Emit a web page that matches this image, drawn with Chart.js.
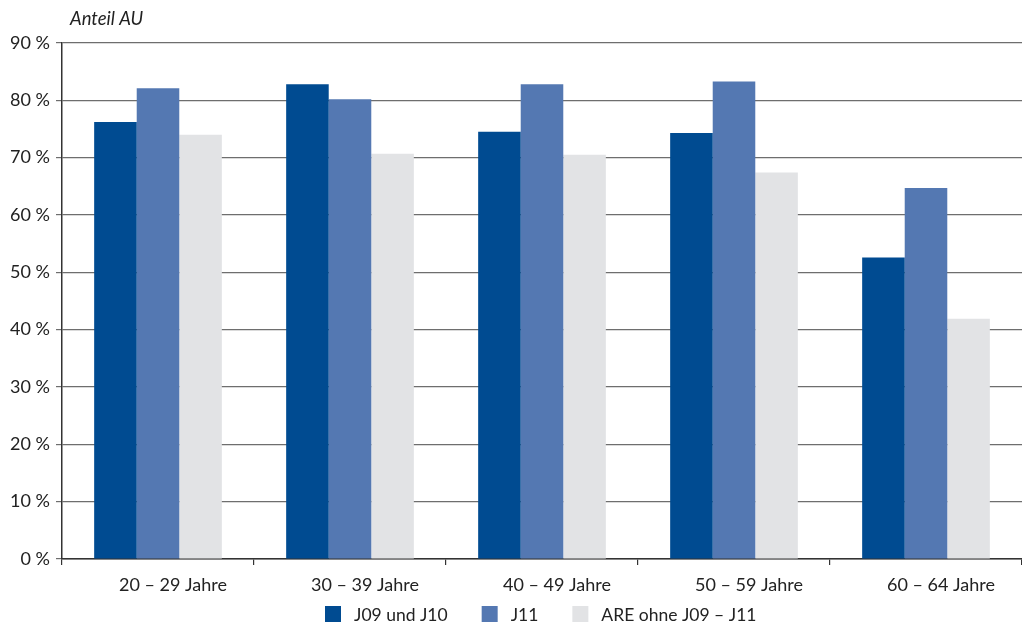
<!DOCTYPE html>
<html>
<head>
<meta charset="utf-8">
<script src="https://cdn.jsdelivr.net/npm/chart.js@4/dist/chart.umd.min.js"></script>
<style>
  html, body { margin: 0; padding: 0; background: #fff; }
  #wrap { width: 1022px; height: 623px; position: relative; }
</style>
</head>
<body>
<div id="wrap"><canvas id="c" width="1022" height="623"></canvas></div>
<script>
const categories = ['20 – 29 Jahre', '30 – 39 Jahre', '40 – 49 Jahre', '50 – 59 Jahre', '60 – 64 Jahre'];
const seriesNames = ['J09 und J10', 'J11', 'ARE ohne J09 – J11'];
const j09j10 = [76.2, 82.8, 74.5, 74.3, 52.6];
const j11 = [82.1, 80.2, 82.8, 83.3, 64.7];
const areOhne = [74.0, 70.7, 70.5, 67.4, 41.9];
const yTicks = [0, 10, 20, 30, 40, 50, 60, 70, 80, 90];
const colors = ['#004b91', '#5478b2', '#e2e3e5'];

const FONT = 'Lato, "Open Sans", sans-serif';

// Axis caption above the value axis
const axisCaption = {
  id: 'axisCaption',
  afterDraw(chart) {
    const { ctx, chartArea } = chart;
    ctx.save();
    ctx.font = 'italic 18.5px ' + FONT;
    ctx.fillStyle = '#222';
    ctx.textBaseline = 'alphabetic';
    ctx.textAlign = 'left';
    ctx.fillText('Anteil AU', chartArea.left + 8, chartArea.top - 18);
    ctx.restore();
  }
};

// Single-row legend below the category labels
const bottomLegend = {
  id: 'bottomLegend',
  afterDraw(chart) {
    const { ctx } = chart;
    const box = 16, textGap = 13, itemGap = 34;
    const y = 614;
    ctx.save();
    ctx.font = '17.5px ' + FONT;
    ctx.textBaseline = 'middle';
    ctx.textAlign = 'left';
    let x = 325;
    chart.data.datasets.forEach(ds => {
      ctx.fillStyle = ds.backgroundColor;
      ctx.fillRect(x, y - box / 2, box, box);
      x += box + textGap;
      ctx.fillStyle = '#222';
      ctx.fillText(ds.label, x, y + 1);
      x += ctx.measureText(ds.label).width + itemGap;
    });
    ctx.restore();
  }
};

new Chart(document.getElementById('c'), {
  type: 'bar',
  data: {
    labels: categories,
    datasets: [
      { label: seriesNames[0], data: j09j10, backgroundColor: colors[0] },
      { label: seriesNames[1], data: j11, backgroundColor: colors[1] },
      { label: seriesNames[2], data: areOhne, backgroundColor: colors[2] }
    ]
  },
  options: {
    responsive: false,
    animation: false,
    layout: { padding: { top: 43, right: 0, left: 0, bottom: 24 } },
    datasets: { bar: { categoryPercentage: 0.665, barPercentage: 1.0, borderWidth: 0 } },
    plugins: {
      legend: { display: false },
      tooltip: { enabled: false },
      title: { display: false }
    },
    scales: {
      x: {
        offset: true,
        grid: { drawOnChartArea: false, drawTicks: true, tickLength: 6, color: '#333', lineWidth: 1.2, offset: true },
        border: { color: '#333', width: 1.5 },
        ticks: { font: { family: FONT, size: 18 }, color: '#222', padding: 9, labelOffset: 15 },
        afterFit(scale) { scale.height = 40; }
      },
      y: {
        min: 0,
        max: 90,
        afterBuildTicks(scale) { scale.ticks = yTicks.map(v => ({ value: v })); },
        grid: { color: '#6e6e6e', lineWidth: 1.2, drawTicks: true, tickLength: 6 },
        border: { color: '#333', width: 1.5 },
        ticks: {
          font: { family: FONT, size: 18 },
          color: '#222',
          padding: 6,
          callback: v => v + ' %'
        },
        afterFit(scale) { scale.width = 62; }
      }
    }
  },
  plugins: [axisCaption, bottomLegend]
});
</script>
</body>
</html>
